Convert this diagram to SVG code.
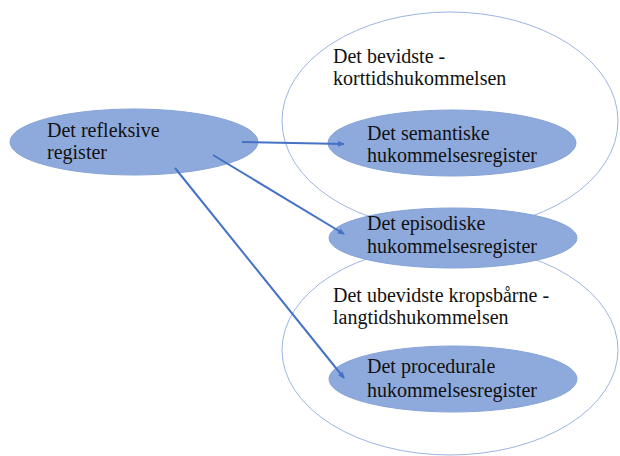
<svg xmlns="http://www.w3.org/2000/svg" width="620" height="456" viewBox="0 0 620 456">
<defs>
<style>
.big{fill:none;stroke:#9db4e2;stroke-width:1}
.node{fill:#8eaadc;stroke:#86a3d8;stroke-width:1}
.t{font-family:"Liberation Serif","Times New Roman",serif;font-size:20px;fill:#111}
.c{stroke:#4472c4;stroke-width:2;fill:none;marker-end:url(#ah)}
</style>
<marker id="ah" markerWidth="8" markerHeight="8" refX="6" refY="4" orient="auto" markerUnits="userSpaceOnUse">
<path d="M0,1 L7,4 L0,7 Z" fill="#4472c4"/>
</marker>
</defs>
<rect width="620" height="456" fill="#fff"/>
<g id="zone-short">
<ellipse class="big" cx="450" cy="121" rx="168" ry="109"/>
<text class="t" x="333" y="63">Det bevidste -</text>
<text class="t" x="333" y="85">korttidshukommelsen</text>
</g>
<g id="zone-long">
<ellipse class="big" cx="450" cy="350" rx="168" ry="105"/>
<text class="t" x="333" y="302">Det ubevidste kropsbårne -</text>
<text class="t" x="333" y="324">langtidshukommelsen</text>
</g>
<g id="reflexive">
<ellipse class="node" cx="134" cy="142" rx="124" ry="33"/>
<text class="t" x="47" y="137">Det refleksive</text>
<text class="t" x="47" y="159">register</text>
</g>
<g id="semantic">
<ellipse class="node" cx="452" cy="143" rx="124" ry="33"/>
<text class="t" x="367" y="140">Det semantiske</text>
<text class="t" x="367" y="162">hukommelsesregister</text>
</g>
<g id="episodic">
<ellipse class="node" cx="453" cy="238" rx="124" ry="30"/>
<text class="t" x="367" y="230">Det episodiske</text>
<text class="t" x="367" y="253">hukommelsesregister</text>
</g>
<g id="procedural">
<ellipse class="node" cx="453" cy="379" rx="124" ry="33"/>
<text class="t" x="367" y="373">Det procedurale</text>
<text class="t" x="367" y="397">hukommelsesregister</text>
</g>
<g id="connectors">
<line class="c" x1="242" y1="142" x2="344" y2="144"/>
<line class="c" x1="213" y1="155" x2="344" y2="234"/>
<line class="c" x1="175" y1="168" x2="344" y2="378"/>
</g>
</svg>
